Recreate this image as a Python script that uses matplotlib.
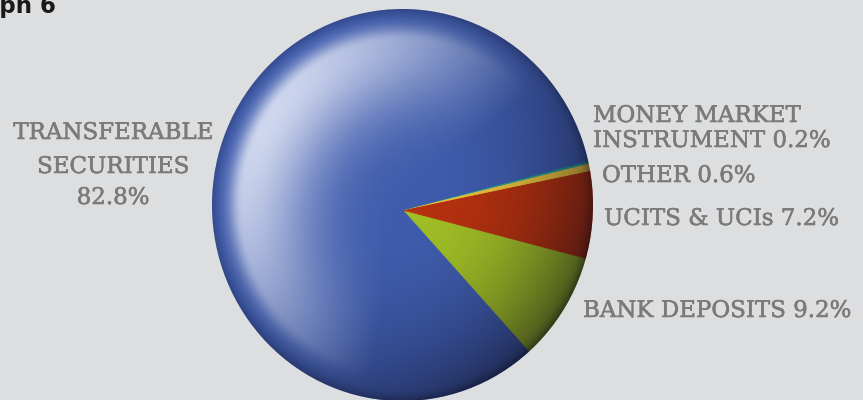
import numpy as np
import matplotlib
matplotlib.use("Agg")
import matplotlib.pyplot as plt
import matplotlib.patheffects as pe
from matplotlib.patches import Circle

# ---------------- data ----------------
title = "Graph 6"
categories = ["BANK DEPOSITS", "UCITS & UCIs", "OTHER",
              "MONEY MARKET INSTRUMENT", "TRANSFERABLE SECURITIES"]
shares = [9.2, 7.2, 0.6, 0.2, 82.8]
colors = ["#a0be26", "#b5310f", "#ebc23c", "#1c9c9c", "#3f5bac"]

# ---------------- layout ----------------
W, H = 863, 400
BG = "#dddee0"
TXT = "#7a7a7a"
FS = 16.5

fig = plt.figure(figsize=(W / 100, H / 100), dpi=100)
fig.patch.set_facecolor(BG)

cx, cy, rx, ry = 402.5, 205, 190.5, 196
ax = fig.add_axes([(cx - rx) / W, (H - cy - ry) / H, 2 * rx / W, 2 * ry / H])
ax.set_facecolor("none")
wedges, _ = ax.pie(shares, colors=colors, startangle=-47.5, counterclock=True,
                   radius=1.06, center=(0, -0.025), wedgeprops=dict(linewidth=0.6))
for w, c in zip(wedges, colors):
    w.set_edgecolor(c)
    w.set_clip_on(True)
    w.set_clip_path(Circle((0, 0), 1, transform=ax.transData))
ax.set_aspect("auto")
ax.axis("off")

# glossy sphere-like shading overlay
n = 600
g = np.linspace(-1, 1, n)
U, V = np.meshgrid(g, g)
R = np.sqrt(U ** 2 + V ** 2)
TH = np.arctan2(V, U)

# highlight crescent on the upper-left, just inside the rim
dh = np.angle(np.exp(1j * (TH - np.deg2rad(150))))
ang_h = np.clip(np.cos(dh * 0.82), 0, 1) ** 1.1
rad_h = np.where(R < 0.84,
                 np.exp(-((R - 0.84) / 0.38) ** 2),
                 np.exp(-((R - 0.84) / 0.075) ** 2))
white = 0.8 * ang_h * rad_h

# darkening towards the lower-right and a thin rim
ang_d = ((1 + np.cos(TH + np.deg2rad(35))) / 2) ** 1.5
black = 0.58 * ang_d * np.clip(R, 0, 1) ** 2.3
black += 0.18 * np.clip((R - 0.93) / 0.07, 0, 1) ** 2
black = np.clip(black, 0, 0.75)

wimg = np.zeros((n, n, 4))
wimg[..., :3] = np.array([0.96, 0.97, 1.0])
wimg[..., 3] = white
bimg = np.zeros((n, n, 4))
bimg[..., :3] = np.array([0.03, 0.03, 0.08])
bimg[..., 3] = black

for img in (bimg, wimg):
    im = ax.imshow(img, extent=(-1, 1, -1, 1), origin="lower", aspect="auto",
                   interpolation="bilinear", zorder=3)
    im.set_clip_path(Circle((0, 0), 1, transform=ax.transData))
ax.set_xlim(-1, 1)
ax.set_ylim(-1, 1)

# ---------------- labels ----------------
def px(x, y):
    return x / W, 1 - y / H

lab = {c: f"{c} {v}%" for c, v in zip(categories, shares)}
pct = {c: f"{v}%" for c, v in zip(categories, shares)}
fx = [pe.withStroke(linewidth=0.4, foreground=TXT)]

# left label (centered, three lines)
left_lines = ["TRANSFERABLE", "SECURITIES", pct["TRANSFERABLE SECURITIES"]]
for t, y in zip(left_lines, [133, 167, 198]):
    fig.text(*px(113, y), t, ha="center", va="center", fontsize=FS,
             color=TXT, family="DejaVu Serif", path_effects=fx)

right_items = [
    ("MONEY MARKET", 593, 116),
    ("INSTRUMENT " + pct["MONEY MARKET INSTRUMENT"], 593, 141),
    (lab["OTHER"], 602, 176),
    (lab["UCITS & UCIs"], 604, 219),
    (lab["BANK DEPOSITS"], 583, 311),
]
for t, x, y in right_items:
    fig.text(*px(x, y), t, ha="left", va="center", fontsize=FS,
             color=TXT, family="DejaVu Serif", path_effects=fx)

fig.text(*px(56, 13.5), title, ha="right", va="baseline", fontsize=16.5,
         fontweight="bold", color="#1a1a1a", family="DejaVu Sans")

fig.savefig("out.png", dpi=100, facecolor=BG)
